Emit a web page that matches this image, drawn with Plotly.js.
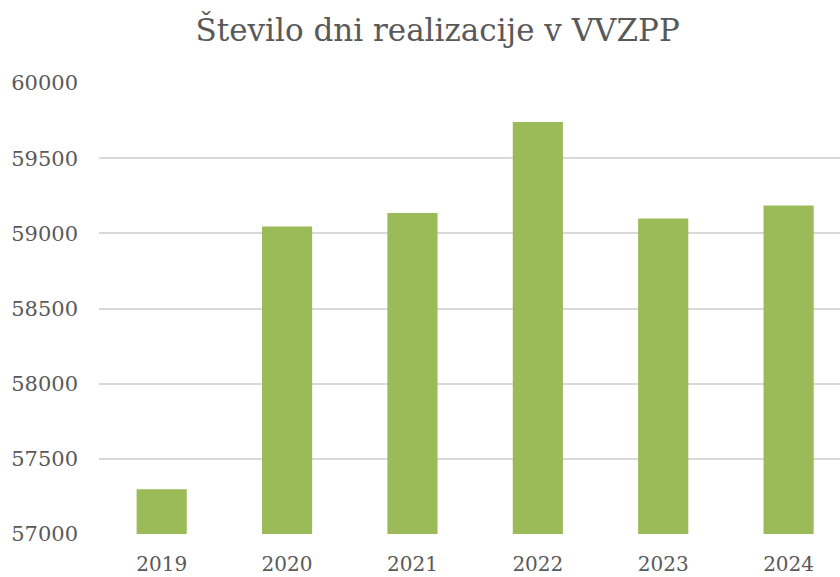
<!DOCTYPE html>
<html>
<head>
<meta charset="utf-8">
<script src="https://cdn.plot.ly/plotly-3.0.1.min.js"></script>
<style>html,body{margin:0;padding:0;background:#fff;}#chart{width:840px;height:577px;}</style>
</head>
<body>
<div id="chart"></div>
<script>
const years = ["2019", "2020", "2021", "2022", "2023", "2024"];
const days = [57297, 59045, 59136, 59740, 59098, 59185];
const titleText = "Število dni realizacije v VVZPP";
const yTicks = [57000, 57500, 58000, 58500, 59000, 59500, 60000];

const fontFam = "'DejaVu Serif', serif";

Plotly.newPlot("chart", [{
  type: "bar",
  x: years,
  y: days,
  marker: {color: "#9BBB59"},
  hoverinfo: "x+y"
}], {
  width: 840,
  height: 577,
  margin: {l: 99, r: 0, t: 83, b: 43},
  paper_bgcolor: "#ffffff",
  plot_bgcolor: "#ffffff",
  bargap: 0.6,
  title: {
    text: titleText,
    x: 0.521, xanchor: "center",
    y: 0.948, yanchor: "middle",
    font: {family: fontFam, size: 31, color: "#595959"}
  },
  xaxis: {
    type: "category",
    range: [-0.5, 5.41],
    showgrid: false,
    zeroline: false,
    showline: false,
    ticks: "",
    ticklabelstandoff: 16,
    tickfont: {family: fontFam, size: 20, color: "#595959"},
    fixedrange: true
  },
  yaxis: {
    range: [57000, 60000],
    tickvals: yTicks,
    ticktext: yTicks.map(String),
    showgrid: true,
    gridcolor: "#d9d9d9",
    gridwidth: 1.5,
    zeroline: false,
    showline: false,
    ticks: "",
    ticklabelstandoff: 20,
    tickfont: {family: fontFam, size: 21, color: "#595959"},
    fixedrange: true
  },
  showlegend: false
}, {displayModeBar: false, staticPlot: false});
</script>
</body>
</html>
